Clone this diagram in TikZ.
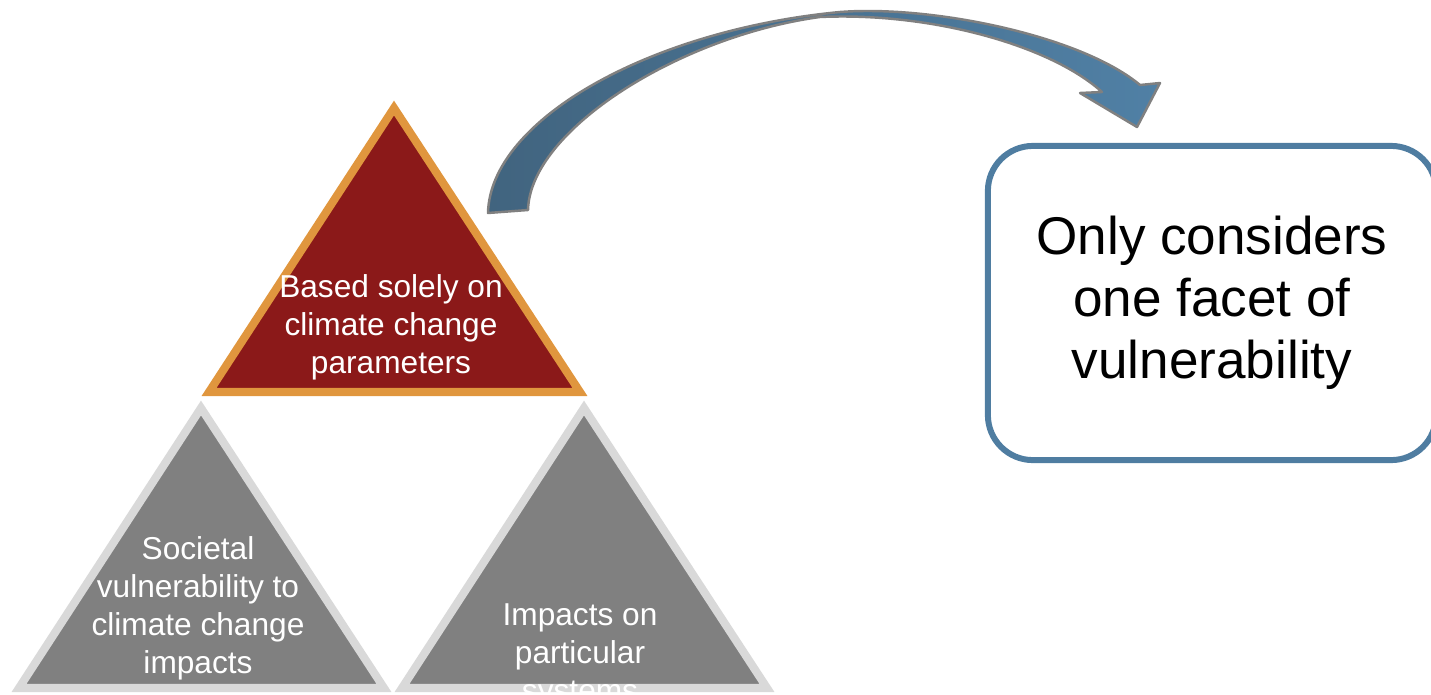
\documentclass[tikz,border=0pt]{standalone}
\usepackage{fontspec}
\setmainfont{Liberation Sans}
\usepackage{xcolor}
\usetikzlibrary{positioning}
\definecolor{climatered}{HTML}{8B1919}
\definecolor{climateorange}{HTML}{E0963E}
\definecolor{facetgrey}{HTML}{808080}
\definecolor{facetrim}{HTML}{D9D9D9}
\definecolor{arrowdark}{HTML}{41647F}
\definecolor{arrowlight}{HTML}{5080A5}
\definecolor{boxblue}{HTML}{4F7DA1}
\tikzset{
x=0.01cm, y=-0.01cm, % one unit is one pixel, y runs downwards
toptri/.style={fill=climatered, draw=climateorange, line width=2.3pt, line join=miter}, % the highlighted triangle
sidetri/.style={fill=facetgrey, draw=facetrim, line width=2.3pt, line join=miter}, % the two grey triangles
tritext/.style={text=white, align=center, inner sep=0pt, font=\fontsize{9}{10.8}\selectfont}, % white labels
factbox/.style={draw=boxblue, fill=white, line width=1.7pt, rounded corners=0.45cm,
  minimum width=4.48cm, minimum height=3.14cm, align=center, font=\fontsize{15.1}{17.6}\selectfont}, % the box on the right
bendarrow/.style={left color=arrowdark, middle color=arrowdark!55!arrowlight, right color=arrowlight,
  draw=gray, line width=0.7pt, line join=round}, % curved block arrow
}

\begin{document}
\begin{tikzpicture}
    \clip (0,0) rectangle (1431,694);

    % grey triangles below
    \draw[sidetri] (201,408) -- (384,688) -- (19,688) -- cycle;
    \draw[sidetri] (584,408) -- (767,688) -- (402,688) -- cycle;
    % red triangle on top
    \draw[toptri] (394,108) -- (580,392) -- (209,392) -- cycle;

    \node[tritext] (based) at (391,327) {Based solely on\\climate change\\parameters};
    \node[tritext] (societal) at (198,608) {Societal\\vulnerability to\\climate change\\impacts};
    \node[tritext] (impacts) at (580,656) {Impacts on\\particular\\systems};

    \node[factbox] (facet) at (1212,303) {Only considers\\one facet of\\vulnerability};

    % block arrow from the triangle to the box
    \draw[bendarrow] (488,213) .. controls (490,120) and (650,30) .. (840,12)
        .. controls (930,5) and (1080,35) .. (1140,85)
        -- (1160,83) -- (1137,127) -- (1080,93) -- (1102,92)
        .. controls (1050,45) and (930,12) .. (820,17)
        .. controls (680,36) and (530,130) .. (528,210) -- cycle;
\end{tikzpicture}
\end{document}
